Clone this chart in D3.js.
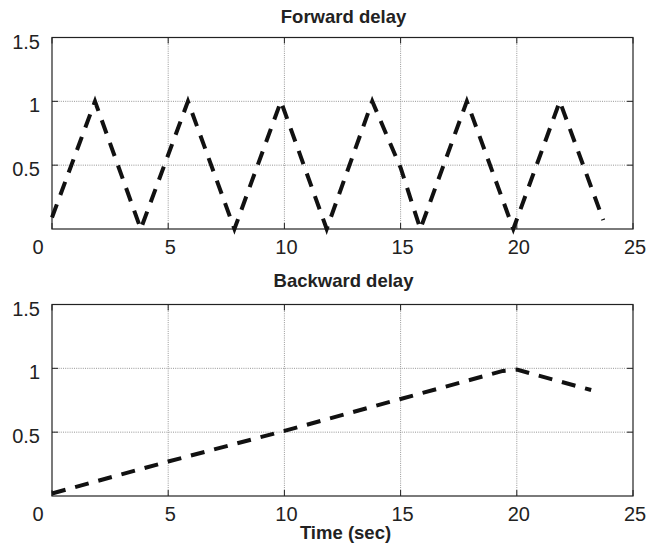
<!DOCTYPE html>
<html>
<head>
<meta charset="utf-8">
<script src="https://cdn.jsdelivr.net/npm/d3@7"></script>
<style>
  body { margin: 0; background: #fff; }
  text { font-family: "Liberation Sans", Arial, sans-serif; fill: #222; }
</style>
</head>
<body>
<div></div>
<script>
// forward delay: triangle wave vertices
const fwdTime  = [0, 1.85, 3.82, 5.85, 7.85, 9.85, 11.82, 13.78, 15.0, 15.85, 17.85, 19.85, 21.85, 23.72];
const fwdDelay = [0.09, 1, 0, 1, 0, 1, 0, 1, 0.48, 0, 1, 0, 1, 0.07];

// backward delay
const bwdTime  = [0, 5, 10, 15, 19.4, 20.0, 23.2];
const bwdDelay = [0.02, 0.27, 0.51, 0.76, 0.98, 0.99, 0.83];

const xTicks = [0, 5, 10, 15, 20, 25];
const yTicks = [0.5, 1, 1.5];
const yGrid = [0.5, 1];

const W = 650, H = 546;
const left = 52, right = 633;

const svg = d3.select("div").append("svg").attr("width", W).attr("height", H);

const x = d3.scaleLinear().domain([0, 25]).range([left, right]);

function panel(top, bottom, title, titleGap, tData, vData, xLabel) {
  const y = d3.scaleLinear().domain([0, 1.5]).range([bottom, top]);
  const g = svg.append("g");

  // dotted grid
  g.selectAll(".gx").data(xTicks.slice(1, -1)).join("line")
    .attr("x1", d => x(d)).attr("x2", d => x(d))
    .attr("y1", top).attr("y2", bottom)
    .attr("stroke", "#8a8a8a").attr("stroke-width", 0.9).attr("stroke-dasharray", "1,1.2");
  g.selectAll(".gy").data(yGrid).join("line")
    .attr("x1", left).attr("x2", right)
    .attr("y1", d => y(d)).attr("y2", d => y(d))
    .attr("stroke", "#8a8a8a").attr("stroke-width", 0.9).attr("stroke-dasharray", "1,1.2");

  // inward ticks on all four sides
  const tick = 6;
  g.selectAll(".tb").data(xTicks).join("line")
    .attr("x1", d => x(d)).attr("x2", d => x(d))
    .attr("y1", bottom).attr("y2", bottom - tick).attr("stroke", "#222");
  g.selectAll(".tt").data(xTicks).join("line")
    .attr("x1", d => x(d)).attr("x2", d => x(d))
    .attr("y1", top).attr("y2", top + tick).attr("stroke", "#222");
  g.selectAll(".tl").data(yTicks).join("line")
    .attr("x1", left).attr("x2", left + tick)
    .attr("y1", d => y(d)).attr("y2", d => y(d)).attr("stroke", "#222");
  g.selectAll(".tr").data(yTicks).join("line")
    .attr("x1", right).attr("x2", right - tick)
    .attr("y1", d => y(d)).attr("y2", d => y(d)).attr("stroke", "#222");

  // box
  g.append("rect").attr("x", left).attr("y", top)
    .attr("width", right - left).attr("height", bottom - top)
    .attr("fill", "none").attr("stroke", "#222").attr("stroke-width", 1.2);

  // tick labels (the 0 label sits left of the corner, as in the original)
  g.selectAll(".lx").data(xTicks).join("text")
    .attr("x", d => x(d) + (d === 0 ? -14 : 2)).attr("y", bottom + 25)
    .attr("text-anchor", "middle").attr("font-size", 20)
    .text(d => d);
  g.selectAll(".ly").data(yTicks).join("text")
    .attr("x", left - 12).attr("y", d => y(d) + 11)
    .attr("text-anchor", "end").attr("font-size", 20)
    .text(d => d);

  g.append("text").attr("x", (left + right) / 2 + 1).attr("y", top - titleGap)
    .attr("text-anchor", "middle").attr("font-size", 18.5).attr("font-weight", "bold")
    .text(title);

  if (xLabel) {
    g.append("text").attr("x", (left + right) / 2 + 3).attr("y", bottom + 43)
      .attr("text-anchor", "middle").attr("font-size", 18.5).attr("font-weight", "bold")
      .text(xLabel);
  }

  const line = d3.line().x(d => x(d[0])).y(d => y(d[1]));
  g.append("path").datum(d3.zip(tData, vData))
    .attr("d", line)
    .attr("fill", "none").attr("stroke", "#111").attr("stroke-width", 4)
    .attr("stroke-dasharray", "14,10");
}

panel(37.5, 229, "Forward delay", 15, fwdTime, fwdDelay, null);
panel(304.5, 496, "Backward delay", 18, bwdTime, bwdDelay, "Time (sec)");
</script>
</body>
</html>
